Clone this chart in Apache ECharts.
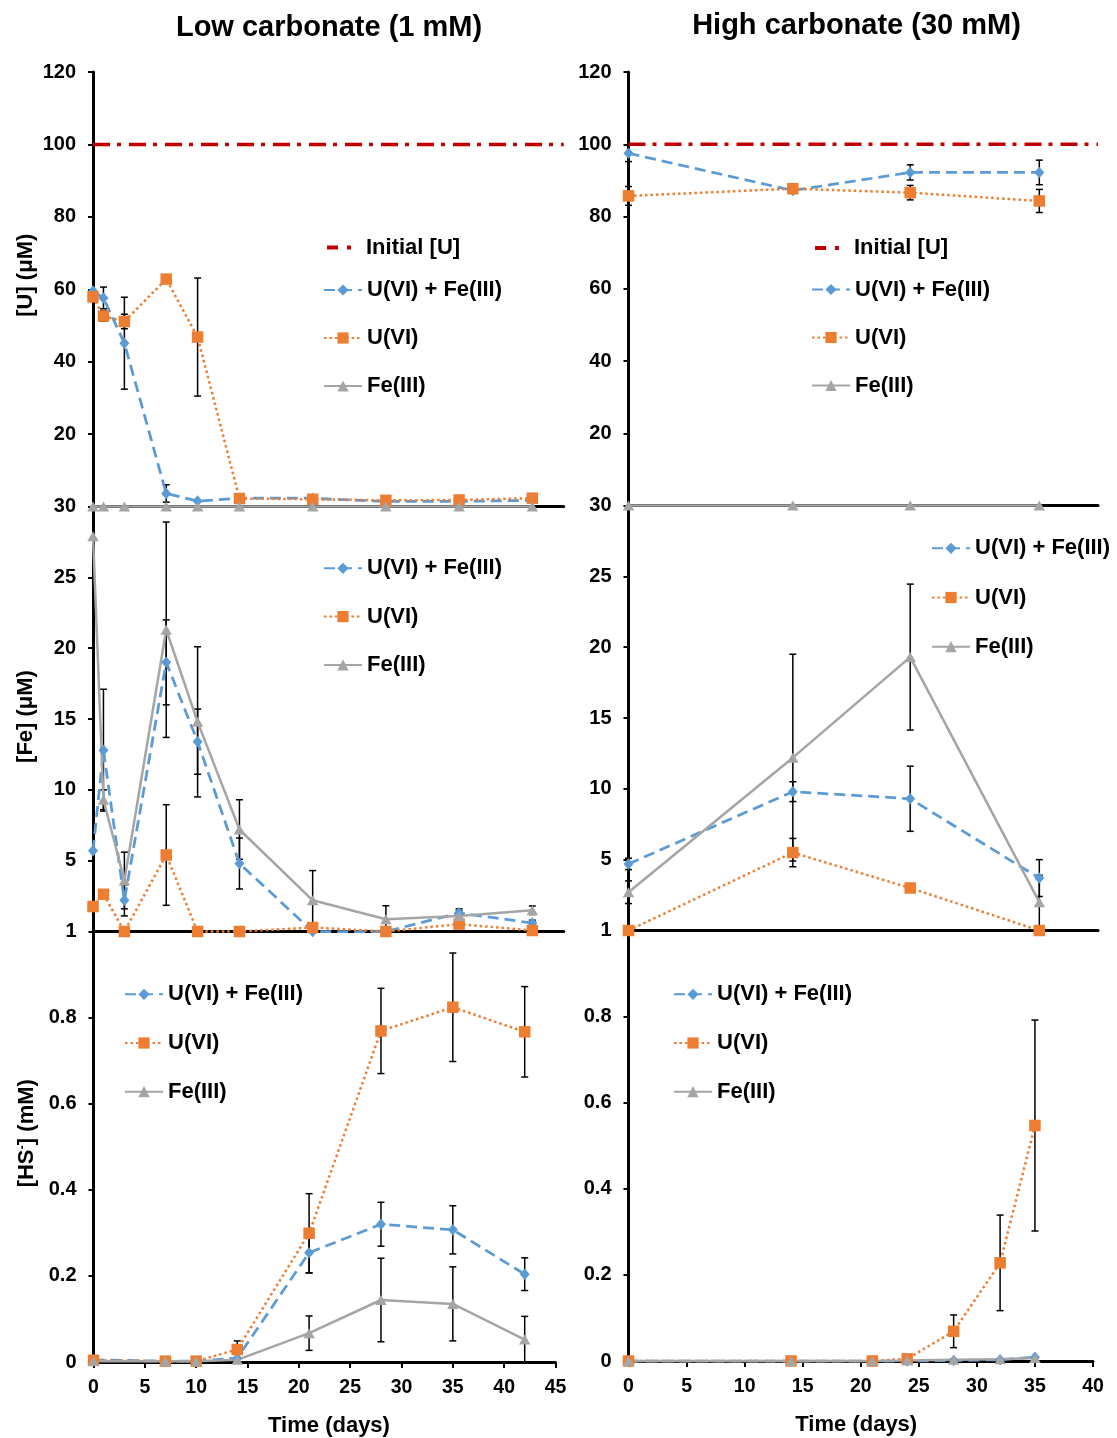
<!DOCTYPE html>
<html>
<head>
<meta charset="utf-8">
<title>Dissolved U, Fe and HS⁻ over time at low and high carbonate</title>
<script src="https://cdn.jsdelivr.net/npm/echarts@6/dist/echarts.min.js"></script>
<style>
  html, body { margin: 0; padding: 0; background: #fff; }
  #chart { width: 1117px; height: 1438px; }
</style>
</head>
<body>
<div id="chart"></div>
<script>
// ---------------- sampling days ----------------
const daysLow    = [0, 1, 3, 7, 10, 14, 21, 28, 35, 42];
const daysLowHS  = [0, 7, 10, 14, 21, 28, 35, 42];
const daysHigh   = [0, 14, 24, 35];
const daysHighHS = [0, 14, 21, 24, 28, 32, 35];

// ---------------- axis ticks ----------------
const xTicksLow  = [0, 5, 10, 15, 20, 25, 30, 35, 40, 45];
const xTicksHigh = [0, 5, 10, 15, 20, 25, 30, 35, 40];
const uTicks     = [0, 20, 40, 60, 80, 100, 120];
const feTicks    = [0, 5, 10, 15, 20, 25, 30];
const hsTicks    = [0, 0.2, 0.4, 0.6, 0.8, 1];

const initialU = 100; // µM U at t = 0

// ---------------- [U] (µM), 1 mM carbonate ----------------
const uLow_UFe     = [59.5, 57.6, 45.1, 3.6, 1.5, 2.3, 2.3, 1.4, 1.4, 1.7];
const uLow_UFe_err = [0, 3.0, 12.7, 2.4, 0.3, 0.4, 0.8, 0.3, 0.3, 0.3];
const uLow_U       = [57.9, 52.6, 51.1, 62.8, 46.8, 2.2, 2.0, 1.7, 1.8, 2.3];
const uLow_U_err   = [0.8, 1.4, 2.0, 1.0, 16.3, 0.4, 0.3, 0.3, 0.3, 0.3];
const uLow_Fe      = [0, 0, 0, 0, 0, 0, 0, 0, 0, 0];
const uLow_Fe_err  = [0, 0, 0, 0, 0, 0, 0, 0, 0, 0];

// ---------------- [U] (µM), 30 mM carbonate ----------------
const uHigh_UFe     = [97.5, 87.2, 92.2, 92.2];
const uHigh_UFe_err = [2.3, 0.8, 2.1, 3.4];
const uHigh_U       = [85.7, 87.7, 86.6, 84.3];
const uHigh_U_err   = [2.6, 0.8, 2.0, 3.2];
const uHigh_Fe      = [0, 0, 0, 0];
const uHigh_Fe_err  = [0, 0, 0, 0];

// ---------------- [Fe] (µM), 1 mM carbonate ----------------
const feLow_UFe     = [5.7, 12.8, 2.2, 19.0, 13.4, 4.8, 0.0, 0.0, 1.3, 0.6];
const feLow_UFe_err = [0, 4.3, 1.1, 3.0, 2.3, 1.8, 0, 0, 0.3, 0.2];
const feLow_U       = [1.76, 2.63, 0, 5.4, 0, 0, 0.28, 0, 0.52, 0.07];
const feLow_U_err   = [0, 0, 0, 3.55, 0, 0, 0, 0, 0, 0];
const feLow_Fe      = [27.9, 9.3, 3.6, 21.3, 14.8, 7.2, 2.2, 0.87, 1.1, 1.5];
const feLow_Fe_err  = [0, 0.7, 2.0, 7.6, 5.3, 2.1, 2.1, 0.95, 0.35, 0.3];

// ---------------- [Fe] (µM), 30 mM carbonate ----------------
const feHigh_UFe     = [4.7, 9.8, 9.3, 3.7];
const feHigh_UFe_err = [0.4, 0.7, 2.3, 1.3];
const feHigh_U       = [0, 5.5, 3.0, 0];
const feHigh_U_err   = [0, 1.0, 0, 0];
const feHigh_Fe      = [2.7, 12.2, 19.3, 2.0];
const feHigh_Fe_err  = [0.8, 7.3, 5.15, 1.9];

// ---------------- [HS-] (mM), 1 mM carbonate ----------------
const hsLow_UFe     = [0.005, 0.002, 0.002, 0.009, 0.254, 0.320, 0.307, 0.204];
const hsLow_UFe_err = [0, 0, 0, 0, 0.047, 0.051, 0.056, 0.038];
const hsLow_U       = [0.004, 0.002, 0.002, 0.029, 0.299, 0.769, 0.824, 0.767];
const hsLow_U_err   = [0, 0, 0, 0.02, 0.092, 0.099, 0.126, 0.105];
const hsLow_Fe      = [0.002, 0.002, 0.002, 0.005, 0.067, 0.144, 0.135, 0.052];
const hsLow_Fe_err  = [0, 0, 0, 0, 0.04, 0.097, 0.086, 0.054];

// ---------------- [HS-] (mM), 30 mM carbonate ----------------
const hsHigh_UFe     = [0, 0, 0, 0, 0.001, 0.003, 0.009];
const hsHigh_UFe_err = [0, 0, 0, 0, 0, 0, 0];
const hsHigh_U       = [0, 0, 0, 0.005, 0.069, 0.228, 0.547];
const hsHigh_U_err   = [0, 0, 0, 0, 0.038, 0.111, 0.245];
const hsHigh_Fe      = [0, 0, 0, 0.001, 0.003, 0.004, 0.007];
const hsHigh_Fe_err  = [0, 0, 0, 0, 0, 0, 0];

// ---------------- styling ----------------
const FONT = "'Liberation Sans', Arial, Helvetica, sans-serif";
const INK = '#000';
const RED = '#C00000';
const NAMES = ['U(VI) + Fe(III)', 'U(VI)', 'Fe(III)'];
const seriesStyle = {
  'U(VI) + Fe(III)': { color: '#5B9BD5', symbol: 'diamond',  symbolSize: [10, 11.5], dash: [11, 6],  width: 2.75 },
  'U(VI)':           { color: '#ED7D31', symbol: 'rect',     symbolSize: 11.5,       dash: [2.5, 3], width: 2.5 },
  'Fe(III)':         { color: '#A5A5A5', symbol: 'triangle', symbolSize: [11.5, 10], dash: 'solid',  width: 2.5 }
};

// panel layout + which arrays feed each panel
const panels = [
  { box: { left: 93, top: 72, width: 470.7, height: 434.5 }, xTicks: xTicksLow, yTicks: uTicks, bottom: false,
    yName: '[U] (μM)', yNamePad: 28, days: daysLow, initial: true,
    values: [[uLow_UFe, uLow_UFe_err], [uLow_U, uLow_U_err], [uLow_Fe, uLow_Fe_err]],
    legend: { left: 323, top: 278, gap: 24 }, initLegend: { left: 327, top: 235.5 } },
  { box: { left: 628.5, top: 72, width: 469.5, height: 433.5 }, xTicks: xTicksHigh, yTicks: uTicks, bottom: false,
    yName: null, days: daysHigh, initial: true,
    values: [[uHigh_UFe, uHigh_UFe_err], [uHigh_U, uHigh_U_err], [uHigh_Fe, uHigh_Fe_err]],
    legend: { left: 811, top: 277.5, gap: 24 }, initLegend: { left: 815, top: 236 } },
  { box: { left: 93, top: 506.5, width: 470.7, height: 425 }, xTicks: xTicksLow, yTicks: feTicks, bottom: false,
    yName: '[Fe] (μM)', yNamePad: 5, days: daysLow, initial: false,
    values: [[feLow_UFe, feLow_UFe_err], [feLow_U, feLow_U_err], [feLow_Fe, feLow_Fe_err]],
    legend: { left: 323, top: 556.3, gap: 24.3 } },
  { box: { left: 628.5, top: 505.5, width: 469.5, height: 425 }, xTicks: xTicksHigh, yTicks: feTicks, bottom: false,
    yName: null, days: daysHigh, initial: false,
    values: [[feHigh_UFe, feHigh_UFe_err], [feHigh_U, feHigh_U_err], [feHigh_Fe, feHigh_Fe_err]],
    legend: { left: 931, top: 536.3, gap: 25.2 } },
  { box: { left: 93.5, top: 931.5, width: 462, height: 430.5 }, xTicks: xTicksLow, yTicks: hsTicks, bottom: true,
    yName: '[HS{sup|-}] (mM)', yNamePad: 27, xNamePad: [0, 0, 0, 9], days: daysLowHS, initial: false,
    values: [[hsLow_UFe, hsLow_UFe_err], [hsLow_U, hsLow_U_err], [hsLow_Fe, hsLow_Fe_err]],
    legend: { left: 124, top: 982.3, gap: 24.7 } },
  { box: { left: 628.5, top: 930.5, width: 464.5, height: 430.5 }, xTicks: xTicksHigh, yTicks: hsTicks, bottom: true,
    yName: null, xNamePad: [0, 9, 0, 0], days: daysHighHS, initial: false,
    values: [[hsHigh_UFe, hsHigh_UFe_err], [hsHigh_U, hsHigh_U_err], [hsHigh_Fe, hsHigh_Fe_err]],
    legend: { left: 673, top: 982.3, gap: 24.7 } }
];

// vertical error bar with short caps
function errorBar(params, api) {
  const x = api.value(0), y = api.value(1), e = api.value(2);
  if (!e) return null;
  const hi = api.coord([x, y + e]);
  const lo = api.coord([x, y - e]);
  const cap = 3.5;
  const style = { stroke: INK, lineWidth: 1.5 };
  return {
    type: 'group',
    children: [
      { type: 'line', shape: { x1: hi[0], y1: hi[1], x2: lo[0], y2: lo[1] }, style },
      { type: 'line', shape: { x1: hi[0] - cap, y1: hi[1], x2: hi[0] + cap, y2: hi[1] }, style },
      { type: 'line', shape: { x1: lo[0] - cap, y1: lo[1], x2: lo[0] + cap, y2: lo[1] }, style }
    ]
  };
}

const tickFont = { fontFamily: FONT, fontSize: 20, fontWeight: 'bold', color: INK };
const legendText = { fontFamily: FONT, fontSize: 22, fontWeight: 'bold', color: INK, lineHeight: 24 };

const option = {
  animation: false,
  backgroundColor: '#fff',
  title: [
    { text: 'Low carbonate (1 mM)', left: 329, top: 10.5, textAlign: 'center', padding: 0,
      textStyle: { fontFamily: FONT, fontSize: 29, fontWeight: 'bold', color: INK, lineHeight: 34 } },
    { text: 'High carbonate (30 mM)', left: 856.5, top: 9, textAlign: 'center', padding: 0,
      textStyle: { fontFamily: FONT, fontSize: 29, fontWeight: 'bold', color: INK, lineHeight: 34 } }
  ],
  grid: [], xAxis: [], yAxis: [], legend: [], series: []
};

panels.forEach((p, i) => {
  const xt = p.xTicks, yt = p.yTicks;
  option.grid.push(Object.assign({ containLabel: false, outerBoundsMode: 'none' }, p.box));

  option.xAxis.push({
    type: 'value', gridIndex: i,
    min: xt[0], max: xt[xt.length - 1], interval: xt[1] - xt[0],
    axisLine: { show: true, onZero: false, lineStyle: { color: INK, width: 3 } },
    axisTick: { show: p.bottom, inside: false, length: 6, lineStyle: { color: INK, width: 2 } },
    axisLabel: Object.assign({ show: p.bottom, margin: 16 }, tickFont, { fontSize: 19.5 }),
    splitLine: { show: false },
    name: p.bottom ? 'Time (days)' : '',
    nameLocation: 'middle', nameGap: 53,
    nameTextStyle: { fontFamily: FONT, fontSize: 22, fontWeight: 'bold', color: INK, lineHeight: 22,
                     padding: p.xNamePad || 0 }
  });

  option.yAxis.push({
    type: 'value', gridIndex: i,
    min: yt[0], max: yt[yt.length - 1], interval: yt[1] - yt[0],
    axisLine: { show: true, onZero: false, lineStyle: { color: INK, width: 3 } },
    axisTick: { show: true, inside: false, length: 5, lineStyle: { color: INK, width: 2 } },
    axisLabel: Object.assign({ margin: 17, showMinLabel: p.bottom, showMaxLabel: true }, tickFont),
    splitLine: { show: false },
    name: p.yName || '',
    nameLocation: 'middle', nameGap: 56,
    nameTextStyle: {
      fontFamily: FONT, fontSize: 22, fontWeight: 'bold', color: INK, lineHeight: 22,
      padding: [0, 0, 0, p.yNamePad || 0],
      rich: { sup: { fontFamily: FONT, fontSize: 13, fontWeight: 'bold', color: INK, lineHeight: 13, verticalAlign: 'top' } }
    }
  });

  if (p.initial) {
    option.series.push({
      type: 'line', name: 'Initial [U]', xAxisIndex: i, yAxisIndex: i,
      data: [[xt[0], initialU], [xt[xt.length - 1], initialU]],
      symbol: 'none', silent: true, clip: false,
      itemStyle: { color: RED },
      lineStyle: { color: RED, width: 3.5, type: [17, 7, 4, 8] }
    });
    option.legend.push({
      data: [{ name: 'Initial [U]', icon: 'path://M0,0 L11,0 L11,4 L0,4 Z M20,0 L24,0 L24,4 L20,4 Z',
               itemStyle: { color: RED, borderWidth: 0 } }],
      orient: 'vertical', left: p.initLegend.left, top: p.initLegend.top, padding: 0,
      itemWidth: 24, itemHeight: 4, selectedMode: false,
      textStyle: Object.assign({ padding: [0, 0, 0, 10] }, legendText)
    });
  }

  // error bars sit under the markers
  NAMES.forEach((name, k) => {
    const [vals, errs] = p.values[k];
    option.series.push({
      type: 'custom', name: 'err-' + i + '-' + k, xAxisIndex: i, yAxisIndex: i,
      silent: true, clip: false, z: 2,
      encode: { x: 0, y: 1 },
      data: p.days.map((d, j) => [d, vals[j], errs[j]]),
      renderItem: errorBar
    });
  });

  NAMES.forEach((name, k) => {
    const s = seriesStyle[name];
    const vals = p.values[k][0];
    option.series.push({
      type: 'line', name: name, xAxisIndex: i, yAxisIndex: i,
      data: p.days.map((d, j) => [d, vals[j]]),
      symbol: s.symbol, symbolSize: s.symbolSize, showAllSymbol: true,
      clip: false, silent: true, z: 3,
      itemStyle: { color: s.color, borderWidth: 0 },
      lineStyle: { color: s.color, width: s.width, type: s.dash }
    });
  });

  option.legend.push({
    data: NAMES.slice(),
    orient: 'vertical', left: p.legend.left, top: p.legend.top, padding: 0,
    itemWidth: 38, itemHeight: 14, itemGap: p.legend.gap, selectedMode: false,
    textStyle: legendText
  });
});

const chart = echarts.init(document.getElementById('chart'), null, { renderer: 'canvas' });
chart.setOption(option);
</script>
</body>
</html>
